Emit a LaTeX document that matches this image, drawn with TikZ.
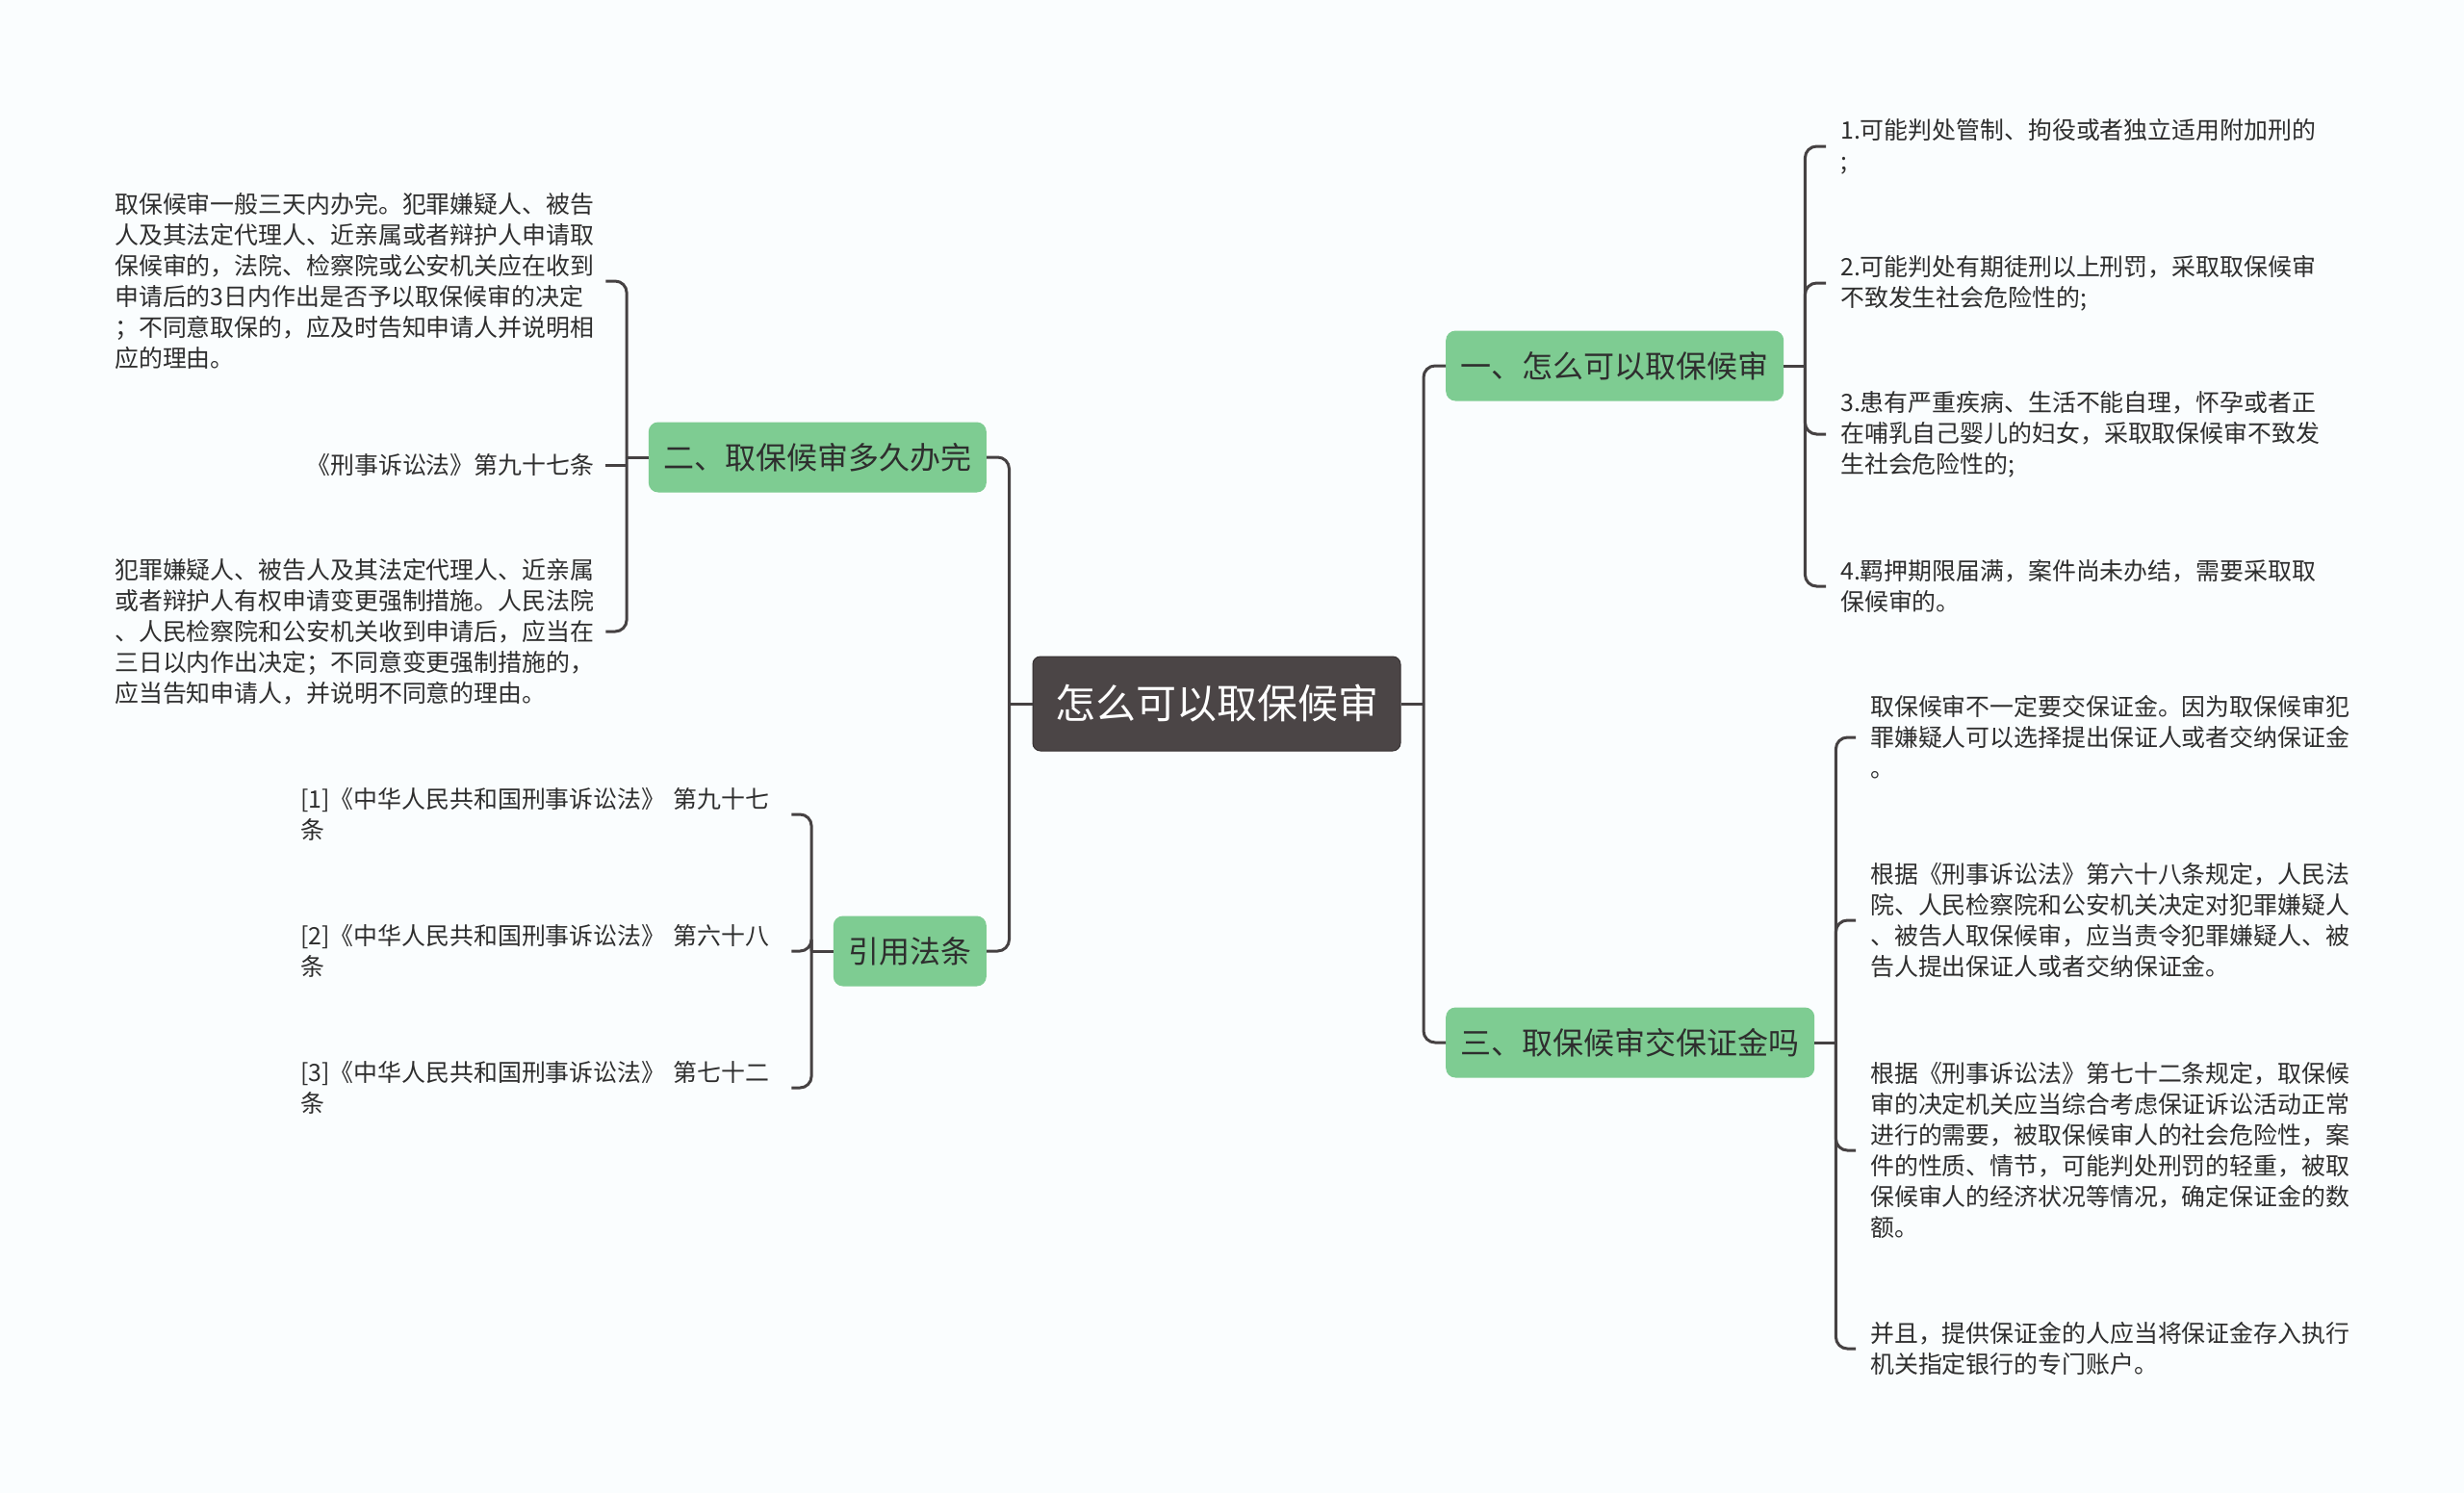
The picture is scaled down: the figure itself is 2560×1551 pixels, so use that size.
\documentclass[tikz,border=0pt]{standalone}
\usepackage{fontspec}
\setmainfont{Noto Sans CJK SC}
\usetikzlibrary{calc}
\definecolor{bg}{HTML}{FAFDFE}
\definecolor{rootfill}{HTML}{4B4546}
\definecolor{greenfill}{HTML}{7ECC92}
\definecolor{linec}{HTML}{454142}
\definecolor{txt}{HTML}{2E2E2E}
\begin{document}
\begin{tikzpicture}[x=1pt,y=-1pt,
  conn/.style={draw=linec,line width=3pt},
  rconn/.style={conn,rounded corners=12pt},
  rootbox/.style={fill=rootfill,draw=rootfill!70!black,line width=1pt,rounded corners=8pt,text=white,font=\fontsize{42}{50}\selectfont,minimum height=98pt,inner xsep=23pt,inner ysep=0pt},
  topic/.style={fill=greenfill,rounded corners=10pt,text=txt,font=\fontsize{32}{38}\selectfont,minimum height=73pt,inner xsep=15.5pt,inner ysep=0pt},
  leaf/.style={text=txt,font=\fontsize{24.9}{32}\selectfont,text width=498pt,align=left,inner sep=0pt},
  leafr/.style={leaf,align=right},
]
\fill[bg] (0,0) rectangle (2560,1551);
\useasboundingbox (0,0) rectangle (2560,1551);

% root and main topics
\node[rootbox] (root) at (1264,731) {怎么可以取保候审};
\node[topic,anchor=west] (n1) at (1502,380) {一、怎么可以取保候审};
\node[topic,anchor=west] (n3) at (1502,1083) {三、取保候审交保证金吗};
\node[topic,anchor=east] (n2) at (1025,475) {二、取保候审多久办完};
\node[topic,anchor=east] (n4) at (1025,988) {引用法条};

% leaves of n1
\node[leaf,anchor=west] (a1) at (1912,152) {1.可能判处管制、拘役或者独立适用附加刑的\\;};
\node[leaf,anchor=west] (a2) at (1912,294) {2.可能判处有期徒刑以上刑罚，采取取保候审\\不致发生社会危险性的;};
\node[leaf,anchor=west] (a3) at (1912,451) {3.患有严重疾病、生活不能自理，怀孕或者正\\在哺乳自己婴儿的妇女，采取取保候审不致发\\生社会危险性的;};
\node[leaf,anchor=west] (a4) at (1912,609) {4.羁押期限届满，案件尚未办结，需要采取取\\保候审的。};

% leaves of n3
\node[leaf,anchor=west] (c1) at (1943,766) {取保候审不一定要交保证金。因为取保候审犯\\罪嫌疑人可以选择提出保证人或者交纳保证金\\。};
\node[leaf,anchor=west] (c2) at (1943,956) {根据《刑事诉讼法》第六十八条规定，人民法\\院、人民检察院和公安机关决定对犯罪嫌疑人\\、被告人取保候审，应当责令犯罪嫌疑人、被\\告人提出保证人或者交纳保证金。};
\node[leaf,anchor=west] (c3) at (1943,1195) {根据《刑事诉讼法》第七十二条规定，取保候\\审的决定机关应当综合考虑保证诉讼活动正常\\进行的需要，被取保候审人的社会危险性，案\\件的性质、情节，可能判处刑罚的轻重，被取\\保候审人的经济状况等情况，确定保证金的数\\额。};
\node[leaf,anchor=west] (c4) at (1943,1401) {并且，提供保证金的人应当将保证金存入执行\\机关指定银行的专门账户。};

% leaves of n2
\node[leaf,anchor=west] (b1) at (119,292) {取保候审一般三天内办完。犯罪嫌疑人、被告\\人及其法定代理人、近亲属或者辩护人申请取\\保候审的，法院、检察院或公安机关应在收到\\申请后的3日内作出是否予以取保候审的决定\\；不同意取保的，应及时告知申请人并说明相\\应的理由。};
\node[leafr,anchor=west] (b2) at (119,483) {《刑事诉讼法》第九十七条};
\node[leaf,anchor=west] (b3) at (119,656) {犯罪嫌疑人、被告人及其法定代理人、近亲属\\或者辩护人有权申请变更强制措施。人民法院\\、人民检察院和公安机关收到申请后，应当在\\三日以内作出决定；不同意变更强制措施的，\\应当告知申请人，并说明不同意的理由。};

% leaves of n4
\node[leaf,anchor=west] (d1) at (312,846) {[1]《中华人民共和国刑事诉讼法》 第九十七\\条};
\node[leaf,anchor=west] (d2) at (312,988) {[2]《中华人民共和国刑事诉讼法》 第六十八\\条};
\node[leaf,anchor=west] (d3) at (312,1130) {[3]《中华人民共和国刑事诉讼法》 第七十二\\条};

% root connectors
\coordinate (sR) at ($(root.east)+(23.5,0)$);
\coordinate (sL) at ($(root.west)+(-24,0)$);
\draw[conn] (root.east) -- (sR);
\draw[conn] (root.west) -- (sL);
\draw[rconn] (sR) |- (n1.west);
\draw[rconn] (sR) |- (n3.west);
\draw[rconn] (sL) |- (n2.east);
\draw[rconn] (sL) |- (n4.east);

% n1 connectors
\coordinate (s1) at ($(n1.east)+(22,0)$);
\draw[conn] (n1.east) -- (s1);
\foreach \l in {a1,a2,a3,a4} \draw[rconn] (s1) |- ([xshift=-15pt]\l.west);

% n3 connectors
\coordinate (s3) at ($(n3.east)+(22,0)$);
\draw[conn] (n3.east) -- (s3);
\foreach \l in {c1,c2,c3,c4} \draw[rconn] (s3) |- ([xshift=-15pt]\l.west);

% n2 connectors
\coordinate (s2) at ($(n2.west)+(-22.5,0)$);
\draw[conn] (n2.west) -- (s2);
\draw[rconn] (s2) |- ([xshift=12pt]b1.east);
\draw[rconn] (s2) |- ([xshift=12pt]b3.east);
\draw[conn] (s2 |- b2.east) -- ([xshift=12pt]b2.east);

% n4 connectors
\coordinate (s4) at ($(n4.west)+(-22.5,0)$);
\draw[conn] (n4.west) -- (s4);
\foreach \l in {d1,d2,d3} \draw[rconn] (s4) |- ([xshift=12pt]\l.east);
\end{tikzpicture}
\end{document}
